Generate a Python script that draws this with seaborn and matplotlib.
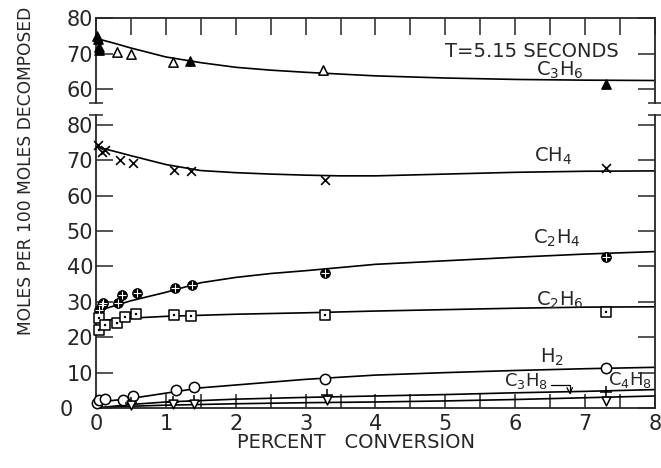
import numpy as np
import pandas as pd
import matplotlib
matplotlib.use("Agg")
import matplotlib.pyplot as plt
import seaborn as sns
from matplotlib.ticker import MultipleLocator, FixedLocator

sns.set_style("ticks")
plt.rcParams['font.family'] = ['DejaVu Sans']
plt.rcParams['mathtext.default'] = 'regular'

# ---- data (percent conversion vs moles per 100 moles decomposed) ----
# top panel: C3H6
c3h6_open_x = [0.30, 0.50, 1.10, 3.25]
c3h6_open_y = [70.5, 69.9, 67.8, 65.5]
c3h6_fill_x = [0.02, 0.03, 0.04, 0.05, 1.35, 7.30]
c3h6_fill_y = [75.0, 74.0, 72.0, 71.0, 68.1, 61.5]
c3h6_curve_x = [0, 0.25, 0.5, 1, 1.5, 2, 2.5, 3, 4, 5, 6, 7, 8]
c3h6_curve_y = [74.3, 73.0, 71.6, 69.1, 67.5, 66.2, 65.4, 64.8, 63.8, 63.2, 62.8, 62.6, 62.5]

# bottom panel
ch4_x = [0.03, 0.08, 0.13, 0.34, 0.53, 1.12, 1.36, 3.28, 7.30]
ch4_y = [74.3, 72.4, 72.9, 70.2, 69.3, 67.2, 67.0, 64.4, 67.7]
ch4_curve_x = [0, 0.25, 0.5, 1, 1.5, 2, 2.5, 3, 3.5, 4, 5, 6, 7, 8]
ch4_curve_y = [73.8, 72.6, 71.3, 68.8, 67.1, 66.5, 66.1, 65.8, 65.6, 65.6, 66.1, 66.6, 66.9, 67.0]

c2h4_x = [0.05, 0.08, 0.10, 0.32, 0.37, 0.58, 1.13, 1.38, 3.28, 7.30]
c2h4_y = [27.7, 29.2, 29.8, 29.6, 31.9, 32.6, 33.8, 34.7, 38.2, 42.7]
c2h4_curve_x = [0, 0.5, 1, 1.5, 2, 2.5, 3, 4, 5, 6, 7, 8]
c2h4_curve_y = [27.3, 30.3, 32.7, 35.4, 36.9, 38.0, 38.8, 40.6, 41.6, 42.6, 43.5, 44.2]

c2h6_x = [0.04, 0.05, 0.13, 0.30, 0.41, 0.57, 1.12, 1.36, 3.28, 7.30]
c2h6_y = [22.0, 25.3, 23.4, 23.9, 25.8, 26.7, 26.3, 26.0, 26.3, 27.2]
c2h6_curve_x = [0, 0.5, 1, 2, 3, 4, 5, 6, 7, 8]
c2h6_curve_y = [24.6, 25.4, 25.9, 26.5, 26.9, 27.4, 27.8, 28.2, 28.5, 28.6]

h2_x = [0.01, 0.05, 0.13, 0.39, 0.53, 1.14, 1.40, 3.28, 7.30]
h2_y = [1.3, 2.2, 2.5, 2.3, 3.4, 5.1, 5.8, 8.1, 11.2]
h2_curve_x = [0, 0.5, 1, 1.5, 2, 3, 4, 5, 6, 7, 8]
h2_curve_y = [1.6, 2.7, 4.2, 5.7, 6.5, 8.1, 9.3, 10.0, 10.6, 11.1, 11.5]

c4h8_x = [0.50, 1.10, 1.40, 3.30, 7.30]
c4h8_y = [1.5, 1.8, 2.0, 3.7, 4.6]
c4h8_curve_x = [0, 0.5, 1, 2, 3, 4, 5, 6, 7, 8]
c4h8_curve_y = [0.0, 1.0, 1.7, 2.5, 3.0, 3.4, 3.8, 4.3, 4.7, 5.2]

c3h8_x = [0.50, 1.10, 1.40, 3.30, 7.30]
c3h8_y = [0.8, 1.0, 1.2, 2.2, 2.0]
c3h8_curve_x = [0, 0.5, 1, 2, 3, 4, 5, 6, 7, 8]
c3h8_curve_y = [0.0, 0.5, 0.8, 1.2, 1.5, 1.7, 2.0, 2.4, 2.9, 3.4]

top_yticks = [60, 70, 80]
bot_yticks = [0, 10, 20, 30, 40, 50, 60, 70, 80]
# the bottom "0" sits a bit left of the others so it clears the x-axis "0"
bot_ytick_labels = ["0   ", "10", "20", "30", "40", "50", "60", "70", "80"]
xticks = [0, 1, 2, 3, 4, 5, 6, 7, 8]

LW = 1.2
FS = 14
TFS = 15

fig = plt.figure(figsize=(6.61, 4.68), dpi=100)
ax_top = fig.add_axes([0.1452, 0.7799, 0.8457, 0.1816])
ax_bot = fig.add_axes([0.1452, 0.1282, 0.8457, 0.6261])

# ---- top panel ----
sns.lineplot(x=c3h6_curve_x, y=c3h6_curve_y, ax=ax_top, color="black", lw=LW)
sns.scatterplot(x=c3h6_open_x, y=c3h6_open_y, ax=ax_top, marker="^", s=45,
                color="white", edgecolor="black", linewidth=1.1, zorder=3, clip_on=False)
sns.scatterplot(x=c3h6_fill_x, y=c3h6_fill_y, ax=ax_top, marker="^", s=45,
                color="black", edgecolor="black", linewidth=1.0, zorder=3, clip_on=False)

ax_top.set_xlim(0, 8)
ax_top.set_ylim(56.2, 80)
ax_top.spines['bottom'].set_visible(False)
ax_top.yaxis.set_major_locator(FixedLocator(top_yticks))
ax_top.xaxis.set_major_locator(MultipleLocator(0.5))
ax_top.tick_params(axis='x', which='both', top=True, bottom=False, labeltop=False,
                   labelbottom=False, direction='in', length=12, width=1.1)
ax_top.tick_params(axis='y', which='major', left=True, right=True, direction='in',
                   length=12, width=1.1, labelsize=TFS, pad=2)
ax_top.yaxis.set_minor_locator(FixedLocator([56.2]))
ax_top.tick_params(axis='y', which='minor', left=True, right=True, direction='inout',
                   length=10, width=1.1)
ax_top.text(6.24, 70.6, "T=5.15 SECONDS", ha="center", va="center", fontsize=FS)
ax_top.text(6.64, 65.3, r"C$_3$H$_6$", ha="center", va="center", fontsize=FS)

# ---- bottom panel ----
curves = [(ch4_curve_x, ch4_curve_y), (c2h4_curve_x, c2h4_curve_y),
          (c2h6_curve_x, c2h6_curve_y), (h2_curve_x, h2_curve_y),
          (c4h8_curve_x, c4h8_curve_y), (c3h8_curve_x, c3h8_curve_y)]
for cx, cy in curves:
    sns.lineplot(x=cx, y=cy, ax=ax_bot, color="black", lw=LW)

sns.scatterplot(x=ch4_x, y=ch4_y, ax=ax_bot, marker="x", s=40, color="black",
                linewidth=1.2, zorder=3, clip_on=False)
sns.scatterplot(x=c2h4_x, y=c2h4_y, ax=ax_bot, marker="o", s=50, color="black",
                edgecolor="black", zorder=3, clip_on=False)
sns.scatterplot(x=c2h4_x, y=c2h4_y, ax=ax_bot, marker="+", s=30, color="white",
                linewidth=0.8, zorder=4, clip_on=False)
sns.scatterplot(x=c2h6_x, y=c2h6_y, ax=ax_bot, marker="s", s=50, color="white",
                edgecolor="black", linewidth=1.1, zorder=3, clip_on=False)
sns.scatterplot(x=c2h6_x, y=c2h6_y, ax=ax_bot, marker="s", s=4, color="black",
                edgecolor="black", zorder=4, clip_on=False)
sns.scatterplot(x=h2_x, y=h2_y, ax=ax_bot, marker="o", s=55, color="white",
                edgecolor="black", linewidth=1.1, zorder=3, clip_on=False)
sns.scatterplot(x=c4h8_x, y=c4h8_y, ax=ax_bot, marker="+", s=70, color="black",
                linewidth=1.1, zorder=3, clip_on=False)
sns.scatterplot(x=c3h8_x, y=c3h8_y, ax=ax_bot, marker="v", s=40, color="white",
                edgecolor="black", linewidth=1.1, zorder=3, clip_on=False)

ax_bot.set_xlim(0, 8)
ax_bot.set_ylim(0, 82.8)
ax_bot.spines['top'].set_visible(False)
ax_bot.xaxis.set_major_locator(FixedLocator(xticks))
ax_bot.xaxis.set_minor_locator(MultipleLocator(0.5))
ax_bot.set_yticks(bot_yticks, bot_ytick_labels)
ax_bot.yaxis.set_minor_locator(FixedLocator([82.8]))
ax_bot.tick_params(axis='x', which='both', bottom=True, top=False, direction='in',
                   length=10, width=1.1)
ax_bot.tick_params(axis='x', which='major', labelsize=TFS, pad=4)
ax_bot.tick_params(axis='y', which='major', left=True, right=True, direction='in',
                   length=12, width=1.1, labelsize=TFS, pad=2)
ax_bot.tick_params(axis='y', which='minor', left=True, right=True, direction='inout',
                   length=10, width=1.1)

ax_bot.text(6.54, 71.0, r"CH$_4$", ha="center", va="center", fontsize=FS)
ax_bot.text(6.59, 47.9, r"C$_2$H$_4$", ha="center", va="center", fontsize=FS)
ax_bot.text(6.64, 30.3, r"C$_2$H$_6$", ha="center", va="center", fontsize=FS)
ax_bot.text(6.52, 14.3, r"H$_2$", ha="center", va="center", fontsize=FS)
ax_bot.text(6.16, 7.6, r"C$_3$H$_8$", ha="center", va="center", fontsize=FS - 1)
ax_bot.text(7.64, 7.9, r"C$_4$H$_8$", ha="center", va="center", fontsize=FS - 1)
ax_bot.annotate("", xy=(6.78, 3.0), xytext=(6.47, 6.6),
                arrowprops=dict(arrowstyle="->", lw=0.9, color="black",
                                connectionstyle="angle,angleA=0,angleB=90,rad=0"))

for ax in (ax_top, ax_bot):
    for sp in ax.spines.values():
        sp.set_linewidth(1.3)
    ax.set_xlabel("")
    ax.set_ylabel("")

fig.text(0.539, 0.055, "PERCENT   CONVERSION", ha="center", va="center", fontsize=FS)
fig.text(0.040, 0.634, "MOLES PER 100 MOLES DECOMPOSED", ha="center", va="center",
         rotation=90, fontsize=12.3)

fig.savefig("out.png", dpi=100)
